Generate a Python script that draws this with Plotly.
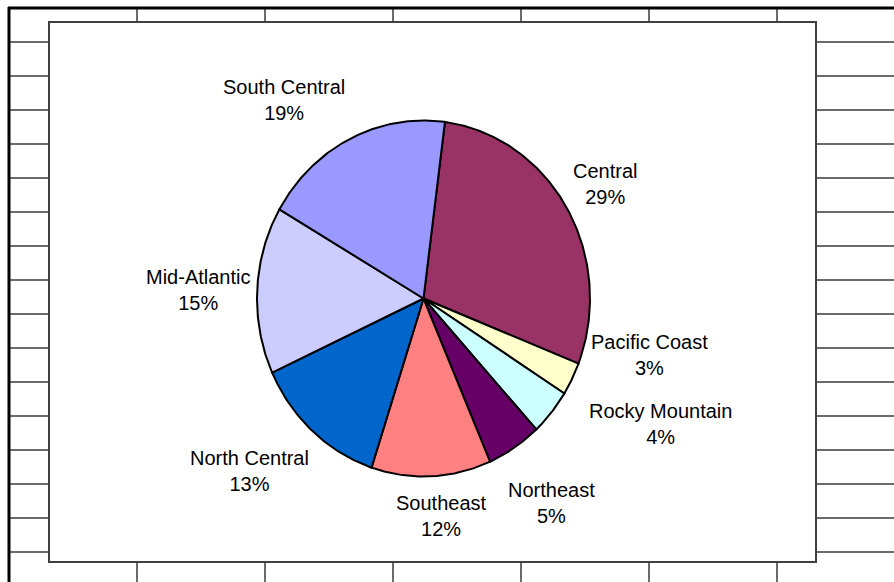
import numpy as np
import plotly.graph_objects as go

# ---- data ----
regions = ["Central", "Pacific Coast", "Rocky Mountain", "Northeast",
           "Southeast", "North Central", "Mid-Atlantic", "South Central"]
shares = [28.9, 3.0, 4.2, 5.3, 11.6, 13.1, 15.2, 18.7]

# ---- style / layout ----
colors = ["#993366", "#FFFFCC", "#CCFFFF", "#660066",
          "#FF8080", "#0066CC", "#CCCCFF", "#9999FF"]
label_pos = [(605, 184), (649, 355), (660, 424), (551, 503),
             (441, 516), (249, 471), (198, 290), (284, 100)]
W, H = 894, 582
CX, CY, RX, RY = 423.5, 298.5, 166.5, 178.0
START_DEG = 7.4
FONT = "Liberation Sans, Arial, sans-serif"

fig = go.Figure()

total = sum(shares)
a0 = np.deg2rad(START_DEG)
for name, val, col in zip(regions, shares, colors):
    span = 2 * np.pi * val / total
    t = np.linspace(a0, a0 + span, max(8, int(val * 6)))
    xs = np.concatenate([[CX], CX + RX * np.sin(t), [CX]])
    ys = np.concatenate([[CY], CY - RY * np.cos(t), [CY]])
    fig.add_trace(go.Scatter(x=xs, y=ys, mode="lines", fill="toself",
                             fillcolor=col, line=dict(color="black", width=2),
                             name=name, hoverinfo="name", showlegend=False))
    a0 += span

for name, val, (lx, ly) in zip(regions, shares, label_pos):
    fig.add_annotation(x=lx, y=ly, xref="x", yref="y", showarrow=False,
                       text=f"{name}<br>{round(val)}%", xanchor="center", yanchor="middle",
                       font=dict(family=FONT, size=20, color="black"))

# spreadsheet grid behind the chart
shapes = []
grid_col = "#3a3a3a"
for k in range(16):
    y = 42 + 34 * k
    shapes.append(dict(type="line", x0=10, x1=W, y0=y, y1=y,
                       line=dict(color=grid_col, width=1.5), layer="below"))
for k in range(6):
    x = 137 + 128 * k
    shapes.append(dict(type="line", x0=x, x1=x, y0=8, y1=H,
                       line=dict(color=grid_col, width=1.5), layer="below"))
# chart area
shapes.append(dict(type="rect", x0=49, x1=816, y0=22, y1=562, fillcolor="white",
                   line=dict(color="#404040", width=2), layer="below"))
# thick sheet borders
shapes.append(dict(type="line", x0=8, x1=W, y0=8, y1=8,
                   line=dict(color="black", width=3), layer="below"))
shapes.append(dict(type="line", x0=9, x1=9, y0=7, y1=H,
                   line=dict(color="black", width=3), layer="below"))

fig.update_layout(
    width=W, height=H, margin=dict(l=0, r=0, t=0, b=0),
    paper_bgcolor="white", plot_bgcolor="white",
    xaxis=dict(range=[0, W], visible=False, fixedrange=True),
    yaxis=dict(range=[H, 0], visible=False, fixedrange=True),
    shapes=shapes, showlegend=False,
)

fig.write_html("out.html")
